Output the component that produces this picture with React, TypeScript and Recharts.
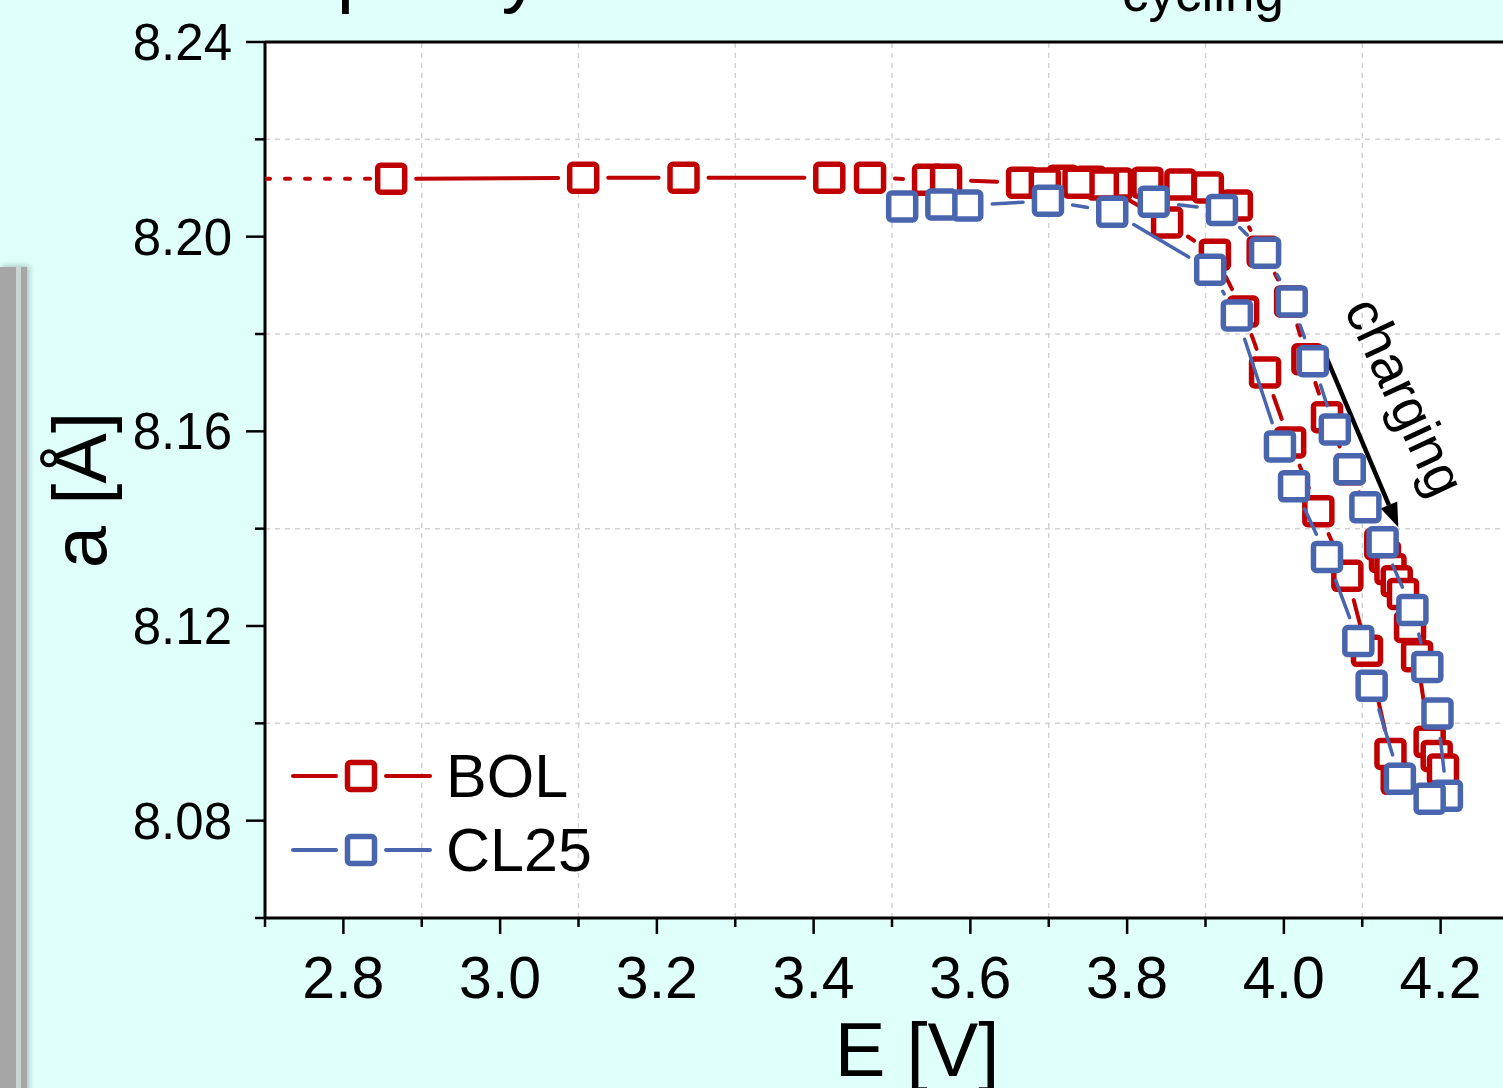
import React from "react";
import { ScatterChart, Scatter, XAxis, YAxis, ReferenceLine, ReferenceArea, ReferenceDot, Legend, Label } from "recharts";

const RED = "#c00000";
const BLUE = "#4865ad";
const FONT = "'Liberation Sans', Arial, sans-serif";

// BOL: charge along the plateau, down the right branch, then discharge back up the left branch
const bolE = [2.861, 3.106, 3.234, 3.42, 3.472, 3.546, 3.569, 3.666, 3.718, 3.753, 3.787, 3.826, 3.868, 3.903, 3.94,
  3.973, 4.008, 4.03, 4.055, 4.084, 4.123, 4.129, 4.136, 4.144, 4.152, 4.161, 4.17, 4.186, 4.195, 4.203,
  4.144, 4.136, 4.106, 4.081, 4.044, 4.008, 3.976, 3.948, 3.912, 3.851, 3.769, 3.738, 3.695];
const bolA = [8.2119, 8.2121, 8.2121, 8.2121, 8.2121, 8.2117, 8.2117, 8.2111, 8.2115, 8.2113, 8.2109, 8.2111, 8.2107, 8.2101, 8.2064,
  8.1969, 8.1867, 8.1748, 8.1629, 8.1522, 8.1368, 8.1342, 8.1317, 8.1292, 8.1266, 8.1198, 8.1138, 8.0962, 8.0933, 8.0905,
  8.0886, 8.0937, 8.1149, 8.1303, 8.1436, 8.1577, 8.1721, 8.1846, 8.1963, 8.2029, 8.2107, 8.2111, 8.2109];

// CL25
const cl25E = [3.834, 3.921, 3.976, 4.01, 4.037, 4.065, 4.084, 4.104, 4.126, 4.164, 4.183, 4.196, 4.208,
  4.186, 4.148, 4.112, 4.095, 4.055, 4.013, 3.995, 3.94, 3.906, 3.781, 3.699, 3.596, 3.563, 3.513];
const cl25A = [8.2072, 8.2055, 8.1967, 8.1867, 8.1744, 8.1604, 8.1522, 8.1444, 8.1372, 8.1233, 8.1116, 8.102, 8.0851,
  8.0845, 8.0886, 8.1077, 8.1169, 8.1342, 8.1487, 8.1569, 8.1838, 8.1932, 8.2051, 8.2074, 8.2064, 8.2066, 8.2062];

// dotted lead-in of BOL to the axis
const leadE = [2.7, 2.861];
const leadA = [8.2119, 8.2119];

const xTicks = [2.7, 2.8, 2.9, 3.0, 3.1, 3.2, 3.3, 3.4, 3.5, 3.6, 3.7, 3.8, 3.9, 4.0, 4.1, 4.2, 4.3];
const yTicks = [8.06, 8.08, 8.1, 8.12, 8.14, 8.16, 8.18, 8.2, 8.22, 8.24];
const xGrid = [2.9, 3.1, 3.3, 3.5, 3.7, 3.9, 4.1, 4.3];
const yGrid = [8.1, 8.14, 8.18, 8.22];

const series = [
  { name: "BOL", color: RED },
  { name: "CL25", color: BLUE },
];

const toPoints = (xs: number[], ys: number[]) => xs.map((x, i) => ({ x, y: ys[i] }));
const bolData = toPoints(bolE, bolA);
const cl25Data = toPoints(cl25E, cl25A);
const leadData = toPoints(leadE, leadA);

// line with a gap around every symbol, like the original plot
function GappedLine(props: any) {
  const { points, lineColor, lineWidth, gap } = props;
  const segs: any[] = [];
  if (!points) return null;
  for (let i = 0; i < points.length - 1; i++) {
    const p = points[i];
    const q = points[i + 1];
    const dx = q.x - p.x;
    const dy = q.y - p.y;
    const len = Math.hypot(dx, dy);
    if (len <= 2 * gap) continue;
    const ux = dx / len;
    const uy = dy / len;
    segs.push(
      <line key={i} x1={p.x + ux * gap} y1={p.y + uy * gap} x2={q.x - ux * gap} y2={q.y - uy * gap}
        stroke={lineColor} strokeWidth={lineWidth} strokeLinecap="round" />
    );
  }
  return <g>{segs}</g>;
}

function DottedLine(props: any) {
  const { points, lineColor, lineWidth } = props;
  if (!points || points.length < 2) return null;
  const d = points.map((p: any, i: number) => `${i ? "L" : "M"}${p.x},${p.y}`).join(" ");
  return <path d={d} fill="none" stroke={lineColor} strokeWidth={lineWidth} strokeDasharray="5 15" strokeLinecap="round" />;
}

const square = (color: string) => (props: any) => (
  <rect x={props.cx - 13.5} y={props.cy - 13.5} width={27} height={27} rx={3}
    fill="#fff" stroke={color} strokeWidth={5.5} />
);

function XTick(props: any) {
  const { x, y, payload } = props;
  const v = payload.value;
  const major = Math.round(v * 10) % 2 === 0;
  return (
    <g>
      <line x1={x} y1={y} x2={x} y2={y + (major ? 16 : 9)} stroke="#000" strokeWidth={2.5} />
      {major && (
        <text x={x} y={y + 80} textAnchor="middle" fontSize={59} fontFamily={FONT} fill="#000">
          {v.toFixed(1)}
        </text>
      )}
    </g>
  );
}

function YTick(props: any) {
  const { x, y, payload } = props;
  const v = payload.value;
  const major = Math.round(v * 100) % 4 === 0;
  return (
    <g>
      <line x1={x - (major ? 19 : 10)} y1={y} x2={x} y2={y} stroke="#000" strokeWidth={2.5} />
      {major && (
        <text x={x - 33} y={y + 18} textAnchor="end" fontSize={51} fontFamily={FONT} fill="#000">
          {v.toFixed(2)}
        </text>
      )}
    </g>
  );
}

function LegendBox() {
  return (
    <svg width={340} height={150}>
      {series.map((s, i) => {
        const cy = 41 + i * 74;
        return (
          <g key={s.name}>
            <line x1={9} y1={cy} x2={52} y2={cy} stroke={s.color} strokeWidth={4} strokeLinecap="round" />
            <line x1={102} y1={cy} x2={146} y2={cy} stroke={s.color} strokeWidth={4} strokeLinecap="round" />
            {square(s.color)({ cx: 77, cy })}
            <text x={162} y={cy + 21} fontSize={61} fontFamily={FONT} fill="#000">{s.name}</text>
          </g>
        );
      })}
    </svg>
  );
}

const arrowShape = (props: any) => {
  const { x1, y1, x2, y2 } = props;
  const ang = Math.atan2(y2 - y1, x2 - x1);
  const L = 24;
  const W = 9;
  const bx = x2 - L * Math.cos(ang);
  const by = y2 - L * Math.sin(ang);
  const nx = -Math.sin(ang);
  const ny = Math.cos(ang);
  return (
    <g>
      <line x1={x1} y1={y1} x2={bx} y2={by} stroke="#000" strokeWidth={4.5} />
      <polygon points={`${x2},${y2} ${bx + nx * W},${by + ny * W} ${bx - nx * W},${by - ny * W}`} fill="#000" />
    </g>
  );
};

export default function App() {
  return (
    <div style={{ position: "fixed", left: 0, top: 0, width: 1503, height: 1088, overflow: "hidden", background: "#dffffb" }}>
      <div style={{
        position: "absolute", left: 0, top: 267, width: 27, height: 840,
        background: "linear-gradient(to right, #a6a6a6 0px, #a6a6a6 16px, #ccd4d4 16px, #ccd4d4 21px, #a6a6a6 21px, #a6a6a6 27px)",
        boxShadow: "2px -1px 6px rgba(0,0,0,0.25)",
      }} />
      <svg width={1503} height={40} style={{ position: "absolute", left: 0, top: 0 }}>
        <text x={237} y={-2} fontSize={78} fontFamily={FONT} fill="#000">Capacity</text>
        <text x={1122} y={11} fontSize={53} fontFamily={FONT} fill="#000">cycling</text>
      </svg>
      <div style={{ position: "absolute", left: 0, top: 0 }}>
        <ScatterChart width={1530} height={1088} margin={{ top: 42, right: 11, left: 0, bottom: 0 }}>
          <ReferenceArea x1={2.7} x2={4.3} y1={8.06} y2={8.24} fill="#ffffff" fillOpacity={1} stroke="none" ifOverflow="visible" />
          {xGrid.map((v) => (
            <ReferenceLine key={"gx" + v} x={v} stroke="#d2d2d2" strokeWidth={1.5} strokeDasharray="5 5" />
          ))}
          {yGrid.map((v) => (
            <ReferenceLine key={"gy" + v} y={v} stroke="#d2d2d2" strokeWidth={1.5} strokeDasharray="5 5" />
          ))}
          <ReferenceLine y={8.24} stroke="#000" strokeWidth={3} ifOverflow="visible" />
          <XAxis type="number" dataKey="x" domain={[2.7, 4.3]} ticks={xTicks} interval={0} allowDataOverflow
            height={170} tickSize={0} tickMargin={0} tickLine={false} tick={<XTick />}
            axisLine={{ stroke: "#000", strokeWidth: 3 }}>
            <Label content={(p: any) => (
              <text x={p.viewBox.x + p.viewBox.width / 2 + 25} y={1076} textAnchor="middle" fontSize={76} fontFamily={FONT} fill="#000">E [V]</text>
            )} />
          </XAxis>
          <YAxis type="number" dataKey="y" domain={[8.06, 8.24]} ticks={yTicks} interval={0} allowDataOverflow
            width={265} tickSize={0} tickMargin={0} tickLine={false} tick={<YTick />}
            axisLine={{ stroke: "#000", strokeWidth: 3 }}>
            <Label content={(p: any) => {
              const cy = p.viewBox.y + p.viewBox.height / 2 + 10;
              return (
                <text x={106} y={cy} transform={`rotate(-90 106 ${cy})`} textAnchor="middle" fontSize={76} fontFamily={FONT} fill="#000">a [Å]</text>
              );
            }} />
          </YAxis>
          <Scatter name="lead" data={leadData} fill={RED} isAnimationActive={false} legendType="none"
            line={<DottedLine lineColor={RED} lineWidth={4} />} shape={() => <g />} />
          <Scatter name="BOL" data={bolData} fill={RED} isAnimationActive={false}
            line={<GappedLine lineColor={RED} lineWidth={4} gap={25} />} shape={square(RED)} />
          <Scatter name="CL25" data={cl25Data} fill={BLUE} isAnimationActive={false}
            line={<GappedLine lineColor={BLUE} lineWidth={3.5} gap={25} />} shape={square(BLUE)} />
          <ReferenceLine segment={[{ x: 4.049, y: 8.1772 }, { x: 4.146, y: 8.1403 }]} shape={arrowShape} ifOverflow="visible" />
          <ReferenceDot x={4.133} y={8.1655} ifOverflow="visible" shape={(p: any) => (
            <text x={p.cx} y={p.cy} transform={`rotate(65 ${p.cx} ${p.cy})`} textAnchor="middle" fontSize={55} fontFamily={FONT} fill="#000">charging</text>
          )} />
          <Legend layout="vertical" align="center" verticalAlign="middle" content={() => <LegendBox />}
            wrapperStyle={{ left: 284, top: 735, width: 340, height: 150 }} />
        </ScatterChart>
      </div>
    </div>
  );
}
